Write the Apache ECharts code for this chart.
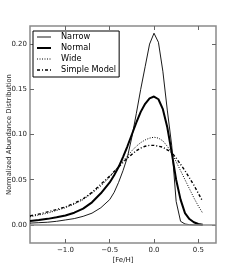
<!DOCTYPE html>
<html><head><meta charset="utf-8">
<script src="https://cdn.jsdelivr.net/npm/echarts@6/dist/echarts.min.js"></script>
<style>html,body{margin:0;padding:0;background:#fff}#c{width:240px;height:270px}</style>
</head><body><div id="c"></div>
<script>
var xs = [-1.4,-1.3,-1.2,-1.1,-1.0,-0.9,-0.8,-0.7,-0.6,-0.5,-0.45,-0.4,-0.35,-0.3,-0.25,-0.2,-0.15,-0.1,-0.05,0,0.05,0.1,0.15,0.2,0.25,0.3,0.35,0.4,0.45,0.5,0.55];
var narrow = [0.002,0.0025,0.003,0.004,0.0055,0.007,0.0095,0.013,0.019,0.028,0.036,0.047,0.060,0.075,0.097,0.123,0.150,0.175,0.200,0.212,0.202,0.170,0.127,0.088,0.026,0.004,0.001,0.0003,0,0,0];
var normal = [0.0044,0.0055,0.0067,0.0085,0.0105,0.0135,0.018,0.025,0.035,0.047,0.055,0.064,0.075,0.087,0.100,0.113,0.125,0.134,0.140,0.142,0.139,0.128,0.108,0.080,0.050,0.028,0.013,0.0065,0.003,0.001,0.0002];
var wide = [0.009,0.011,0.013,0.016,0.019,0.023,0.028,0.035,0.043,0.053,0.059,0.065,0.071,0.076,0.082,0.087,0.091,0.094,0.096,0.097,0.096,0.093,0.087,0.080,0.070,0.060,0.050,0.040,0.030,0.021,0.013];
var simple = [0.010,0.012,0.0145,0.017,0.020,0.024,0.029,0.036,0.045,0.054,0.059,0.064,0.069,0.074,0.078,0.082,0.085,0.087,0.088,0.088,0.087,0.086,0.083,0.080,0.074,0.067,0.060,0.052,0.044,0.035,0.026];
var xTicks = [-1.0,-0.5,0.0,0.5];
var yTicks = [0.00,0.05,0.10,0.15,0.20];
var seriesNames = ['Narrow','Normal','Wide','Simple Model'];

function pairs(ys){ return xs.map(function(x,i){return [x, ys[i]];}); }
var F = 'DejaVu Sans';
var styles = [
  {color:'#000', width:0.9},
  {color:'#000', width:2},
  {color:'#000', width:1, type:[1,1.5]},
  {color:'#000', width:1.4, type:[3,2,1,2]}
];
var tickStyle = {show:true, inside:true, length:4, lineStyle:{color:'#666', width:1}};
var noLine = {show:false, onZero:false};
var chart = echarts.init(document.getElementById('c'), null, {renderer:'canvas'});
chart.setOption({
  animation:false,
  backgroundColor:'#fff',
  grid:{left:30, right:24, top:26, bottom:27, containLabel:false, outerBoundsMode:'none',
        show:true, borderColor:'#8a8a8a', borderWidth:1.5, backgroundColor:'transparent'},
  legend:{
    orient:'vertical', left:33, top:31,
    data:seriesNames.map(function(n,i){return {name:n, lineStyle:Object.assign({}, styles[i])};}),
    backgroundColor:'#fff', borderColor:'#000', borderWidth:1, borderRadius:0,
    padding:[2,3,3,3], itemGap:3, itemWidth:14, itemHeight:9,
    itemStyle:{opacity:0},
    textStyle:{fontFamily:F, fontSize:8.2, color:'#000', padding:[0,0,0,5]}
  },
  xAxis:[{
    type:'value', min:-1.4, max:0.7, position:'bottom',
    axisLine:noLine, splitLine:{show:false},
    axisTick:Object.assign({customValues:xTicks}, tickStyle),
    axisLabel:{customValues:xTicks, fontFamily:F, fontSize:7, color:'#222', margin:4,
      formatter:function(v){return (v<0?'\u2212':'')+Math.abs(v).toFixed(1);}},
    name:'[Fe/H]', nameLocation:'middle', nameGap:14, nameMoveOverlap:false,
    nameTextStyle:{fontFamily:F, fontSize:7, color:'#222'}
  },{
    type:'value', min:-1.4, max:0.7, position:'top',
    axisLine:noLine, splitLine:{show:false},
    axisTick:Object.assign({customValues:xTicks}, tickStyle),
    axisLabel:{show:false}
  }],
  yAxis:[{
    type:'value', min:-0.02, max:0.22, position:'left',
    axisLine:noLine, splitLine:{show:false},
    axisTick:Object.assign({customValues:yTicks}, tickStyle),
    axisLabel:{customValues:yTicks, fontFamily:F, fontSize:7, color:'#222', margin:3,
      formatter:function(v){return v.toFixed(2);}},
    name:'Normalized Abundance Distribution', nameLocation:'middle', nameGap:17, nameMoveOverlap:false,
    nameTextStyle:{fontFamily:F, fontSize:6.8, color:'#222'}
  },{
    type:'value', min:-0.02, max:0.22, position:'right',
    axisLine:noLine, splitLine:{show:false},
    axisTick:Object.assign({customValues:yTicks}, tickStyle),
    axisLabel:{show:false}
  }],
  series:[
    {name:'Narrow', type:'line', symbol:'none', data:pairs(narrow), lineStyle:styles[0], itemStyle:{color:'#000'},
     markLine:{silent:true, symbol:'none', label:{show:false}, lineStyle:{color:'#8a8a8a', width:1.5, type:'solid'}, data:[{yAxis:0}]}},
    {name:'Normal', type:'line', symbol:'none', data:pairs(normal), lineStyle:styles[1], itemStyle:{color:'#000'}},
    {name:'Wide', type:'line', symbol:'none', data:pairs(wide), lineStyle:styles[2], itemStyle:{color:'#000'}},
    {name:'Simple Model', type:'line', symbol:'none', data:pairs(simple), lineStyle:styles[3], itemStyle:{color:'#000'}}
  ]
});
</script></body></html>
